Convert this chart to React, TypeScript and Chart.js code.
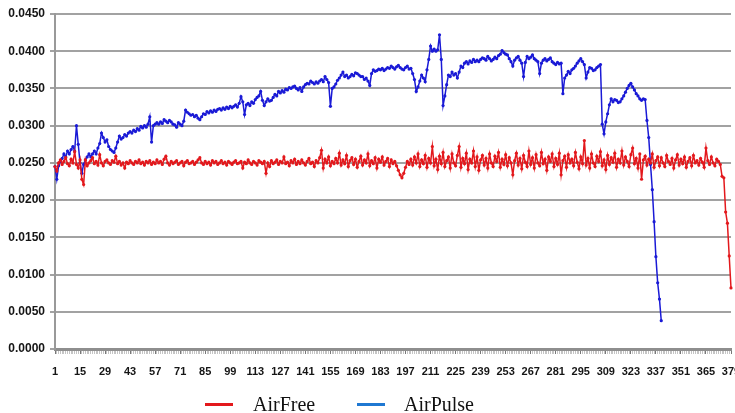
import React, { useEffect, useRef } from 'react';
import { Chart, registerables } from 'chart.js';

Chart.register(...registerables);

// x categories 1..379, a label is printed every 14th one
const categories = Array.from({ length: 379 }, (_, i) => String(i + 1));
const labelStep = 14;

const yMin = 0;
const yMax = 0.045;
const yStep = 0.005;

// AirFree (red)
const airFree = [
    0.0245, 0.0239, 0.0250, 0.0254, 0.0248, 0.0252, 0.0257, 0.0249, 0.0246, 0.0255,
    0.0250, 0.0265, 0.0248, 0.0243, 0.0254, 0.0228, 0.0221, 0.0254, 0.0246, 0.0250,
    0.0253, 0.0257, 0.0249, 0.0252, 0.0247, 0.0261, 0.0250, 0.0246, 0.0252, 0.0254,
    0.0250, 0.0248, 0.0253, 0.0251, 0.0259, 0.0249, 0.0252, 0.0247, 0.0250, 0.0243,
    0.0251, 0.0249, 0.0253, 0.0250, 0.0248, 0.0252, 0.0250, 0.0254, 0.0249, 0.0251,
    0.0247, 0.0252, 0.0250, 0.0253, 0.0248, 0.0251, 0.0249, 0.0254, 0.0250, 0.0252,
    0.0248, 0.0255, 0.0259, 0.0250, 0.0247, 0.0252, 0.0249, 0.0251, 0.0253, 0.0248,
    0.0250, 0.0252, 0.0246, 0.0251, 0.0253, 0.0249, 0.0250, 0.0252, 0.0248, 0.0251,
    0.0254, 0.0257, 0.0250, 0.0248, 0.0252, 0.0249, 0.0251, 0.0247, 0.0253, 0.0250,
    0.0252, 0.0248, 0.0250, 0.0253, 0.0249, 0.0251, 0.0247, 0.0252, 0.0250, 0.0248,
    0.0251, 0.0253, 0.0249, 0.0250, 0.0252, 0.0243, 0.0251, 0.0249, 0.0254, 0.0250,
    0.0248, 0.0252, 0.0250, 0.0247, 0.0253, 0.0251, 0.0249, 0.0252, 0.0236, 0.0250,
    0.0245, 0.0253, 0.0249, 0.0251, 0.0254, 0.0248, 0.0252, 0.0250, 0.0258, 0.0249,
    0.0251, 0.0246, 0.0253, 0.0250, 0.0255, 0.0248, 0.0252, 0.0249, 0.0254, 0.0250,
    0.0247, 0.0252, 0.0256, 0.0249, 0.0251, 0.0245, 0.0253, 0.0250, 0.0257, 0.0267,
    0.0243, 0.0255, 0.0250, 0.0258, 0.0246, 0.0252, 0.0249, 0.0256, 0.0250, 0.0263,
    0.0247, 0.0254, 0.0249, 0.0260, 0.0245, 0.0253, 0.0257, 0.0248, 0.0255, 0.0244,
    0.0252, 0.0259, 0.0247, 0.0254, 0.0250, 0.0262, 0.0246, 0.0253, 0.0249, 0.0257,
    0.0243, 0.0255, 0.0251, 0.0258, 0.0247, 0.0252, 0.0256, 0.0245, 0.0254, 0.0249,
    0.0252, 0.0246, 0.0240, 0.0234, 0.0230, 0.0236, 0.0244, 0.0252, 0.0248, 0.0255,
    0.0247, 0.0258, 0.0250, 0.0262, 0.0245, 0.0254, 0.0249, 0.0260, 0.0244, 0.0256,
    0.0250, 0.0272, 0.0246, 0.0255, 0.0241, 0.0259, 0.0249, 0.0264, 0.0245, 0.0253,
    0.0258, 0.0243, 0.0262, 0.0250, 0.0246, 0.0260, 0.0272, 0.0244, 0.0256, 0.0249,
    0.0263, 0.0241, 0.0255, 0.0250, 0.0266, 0.0245, 0.0258, 0.0240, 0.0254, 0.0260,
    0.0247, 0.0256, 0.0243, 0.0262, 0.0250, 0.0245, 0.0259, 0.0252, 0.0264, 0.0244,
    0.0255, 0.0248, 0.0261, 0.0246, 0.0257, 0.0250, 0.0234, 0.0253, 0.0263, 0.0247,
    0.0256, 0.0242, 0.0260, 0.0251, 0.0245, 0.0266, 0.0248, 0.0257, 0.0243, 0.0261,
    0.0250, 0.0246, 0.0264, 0.0249, 0.0255, 0.0240, 0.0258, 0.0252, 0.0262, 0.0245,
    0.0256, 0.0248, 0.0263, 0.0234, 0.0253, 0.0259, 0.0244, 0.0261, 0.0250, 0.0255,
    0.0246, 0.0264, 0.0251, 0.0242, 0.0258, 0.0249, 0.0280, 0.0247, 0.0256, 0.0243,
    0.0262, 0.0250, 0.0245, 0.0259, 0.0252, 0.0265, 0.0246, 0.0254, 0.0241, 0.0260,
    0.0248, 0.0257, 0.0251, 0.0263, 0.0244, 0.0255, 0.0250, 0.0266, 0.0247, 0.0258,
    0.0252, 0.0245, 0.0261, 0.0270, 0.0249, 0.0256, 0.0243, 0.0262, 0.0228, 0.0254,
    0.0259, 0.0247, 0.0255, 0.0250, 0.0262, 0.0244, 0.0253, 0.0258, 0.0246, 0.0257,
    0.0250, 0.0245, 0.0260, 0.0252, 0.0248, 0.0256, 0.0243, 0.0254, 0.0261, 0.0247,
    0.0255, 0.0249, 0.0258, 0.0244, 0.0252, 0.0257, 0.0246, 0.0260, 0.0250, 0.0253,
    0.0247, 0.0256, 0.0251, 0.0244, 0.0270, 0.0253, 0.0248, 0.0258, 0.0250, 0.0246,
    0.0255, 0.0252, 0.0248, 0.0232, 0.0230, 0.0184, 0.0169, 0.0125, 0.0082,
];

// AirPulse (blue), stops at 340
const airPulse = [
    0.0245, 0.0228, 0.0246, 0.0252, 0.0256, 0.0262, 0.0258, 0.0266, 0.0262, 0.0268,
    0.0272, 0.0266, 0.0300, 0.0275, 0.0250, 0.0236, 0.0248, 0.0254, 0.0258, 0.0262,
    0.0258, 0.0262, 0.0266, 0.0262, 0.0270, 0.0276, 0.0290, 0.0284, 0.0278, 0.0281,
    0.0272, 0.0268, 0.0266, 0.0264, 0.0270, 0.0278, 0.0286, 0.0282, 0.0284, 0.0288,
    0.0286, 0.0290, 0.0292, 0.0290, 0.0294, 0.0292, 0.0296, 0.0294, 0.0299, 0.0297,
    0.0300, 0.0298, 0.0302, 0.0312, 0.0278, 0.0300, 0.0302, 0.0304, 0.0302, 0.0305,
    0.0303, 0.0308, 0.0306, 0.0304, 0.0307, 0.0305, 0.0302, 0.0301, 0.0298, 0.0304,
    0.0302, 0.0300, 0.0306, 0.0321, 0.0318, 0.0316, 0.0314, 0.0315, 0.0312, 0.0314,
    0.0310, 0.0308, 0.0312, 0.0316, 0.0315, 0.0319, 0.0317, 0.0320, 0.0318, 0.0321,
    0.0319, 0.0322, 0.0323, 0.0321, 0.0324, 0.0322, 0.0325, 0.0323, 0.0326, 0.0324,
    0.0326, 0.0328, 0.0325, 0.0330, 0.0339, 0.0332, 0.0315, 0.0328, 0.0330, 0.0327,
    0.0332, 0.0330, 0.0335, 0.0338, 0.0340, 0.0346, 0.0334, 0.0327, 0.0332, 0.0336,
    0.0333, 0.0334, 0.0338, 0.0342, 0.0340, 0.0346, 0.0344, 0.0347, 0.0345, 0.0349,
    0.0348, 0.0351, 0.0350, 0.0352, 0.0353, 0.0350, 0.0348, 0.0351, 0.0346, 0.0352,
    0.0355, 0.0357, 0.0356, 0.0360, 0.0358, 0.0356, 0.0359, 0.0357, 0.0360, 0.0362,
    0.0359, 0.0366, 0.0362, 0.0358, 0.0326, 0.0350, 0.0352, 0.0356, 0.0361, 0.0364,
    0.0368, 0.0372, 0.0366, 0.0368, 0.0364, 0.0366, 0.0369, 0.0367, 0.0371, 0.0370,
    0.0368, 0.0366, 0.0366, 0.0362, 0.0364, 0.0360, 0.0354, 0.0370, 0.0375, 0.0373,
    0.0374, 0.0376, 0.0375, 0.0377, 0.0374, 0.0376, 0.0378, 0.0377, 0.0380, 0.0378,
    0.0376, 0.0379, 0.0381, 0.0378, 0.0376, 0.0375, 0.0378, 0.0380, 0.0376, 0.0377,
    0.0370, 0.0362, 0.0346, 0.0352, 0.0360, 0.0368, 0.0364, 0.0359, 0.0375, 0.0389,
    0.0407, 0.0400, 0.0403, 0.0400, 0.0402, 0.0422, 0.0389, 0.0327, 0.0340, 0.0355,
    0.0368, 0.0366, 0.0372, 0.0368, 0.0370, 0.0364, 0.0372, 0.0380, 0.0378, 0.0384,
    0.0386, 0.0383, 0.0387, 0.0385, 0.0389, 0.0386, 0.0388, 0.0386, 0.0389, 0.0391,
    0.0390, 0.0388, 0.0393, 0.0390, 0.0387, 0.0389, 0.0392, 0.0390, 0.0394, 0.0396,
    0.0401, 0.0398, 0.0396, 0.0395, 0.0390, 0.0386, 0.0380, 0.0388, 0.0391, 0.0393,
    0.0388, 0.0384, 0.0366, 0.0385, 0.0393, 0.0390, 0.0392, 0.0395, 0.0390, 0.0388,
    0.0386, 0.0370, 0.0384, 0.0388, 0.0390, 0.0387, 0.0389, 0.0391, 0.0386, 0.0384,
    0.0382, 0.0385, 0.0383, 0.0384, 0.0343, 0.0364, 0.0368, 0.0373, 0.0370, 0.0375,
    0.0377, 0.0380, 0.0384, 0.0387, 0.0390, 0.0386, 0.0382, 0.0364, 0.0372, 0.0378,
    0.0377, 0.0374, 0.0375, 0.0378, 0.0380, 0.0382, 0.0302, 0.0289, 0.0305, 0.0316,
    0.0328, 0.0336, 0.0332, 0.0335, 0.0334, 0.0331, 0.0332, 0.0336, 0.0340, 0.0345,
    0.0350, 0.0354, 0.0357, 0.0352, 0.0348, 0.0343, 0.0340, 0.0336, 0.0334, 0.0336,
    0.0335, 0.0307, 0.0284, 0.0248, 0.0214, 0.0171, 0.0124, 0.0089, 0.0067, 0.0038,
];

const RED = '#e3181c';
const BLUE = '#1a1ad6';
const LEGEND_BLUE = '#1f78d2';

const tickFont = "'Liberation Sans', Arial, sans-serif";

const App: React.FC = () => {
    const chartRef = useRef<HTMLCanvasElement>(null);
    const chartInstanceRef = useRef<Chart | null>(null);

    useEffect(() => {
        if (!chartRef.current) return;
        const ctx = chartRef.current.getContext('2d');
        if (!ctx) return;

        chartInstanceRef.current = new Chart(ctx, {
            type: 'line',
            data: {
                labels: categories,
                datasets: [
                    {
                        label: 'AirFree',
                        data: airFree,
                        borderColor: RED,
                        backgroundColor: RED,
                        borderWidth: 1.5,
                        pointRadius: 1.6,
                        pointBorderWidth: 0,
                        tension: 0,
                    },
                    {
                        label: 'AirPulse',
                        data: airPulse,
                        borderColor: BLUE,
                        backgroundColor: BLUE,
                        borderWidth: 1.5,
                        pointRadius: 1.6,
                        pointBorderWidth: 0,
                        tension: 0,
                    },
                ],
            },
            options: {
                responsive: true,
                maintainAspectRatio: false,
                animation: false,
                layout: {
                    padding: { top: 14, right: 4, bottom: 0, left: 0 },
                },
                plugins: {
                    legend: { display: false },
                    tooltip: { enabled: true },
                },
                scales: {
                    x: {
                        offset: false,
                        afterFit: (scale: any) => {
                            scale.height = 64;
                            scale.paddingRight = 0;
                            scale.paddingLeft = 0;
                        },
                        border: { display: true, color: '#8e8e8e', width: 3 },
                        grid: {
                            drawOnChartArea: false,
                            drawTicks: true,
                            tickLength: 5,
                            lineWidth: 1,
                            color: (c: any) => (c.index % labelStep === 0 ? '#777' : '#c4c4c4'),
                        },
                        ticks: {
                            autoSkip: false,
                            maxRotation: 0,
                            minRotation: 0,
                            padding: 11,
                            color: '#151515',
                            font: { family: tickFont, size: 11, weight: 'bold' },
                            callback: (_v: any, i: number) => (i % labelStep === 0 ? categories[i] : ''),
                        },
                    },
                    y: {
                        min: yMin,
                        max: yMax,
                        afterFit: (scale: any) => {
                            scale.width = 55;
                        },
                        border: { display: true, color: '#999', width: 2 },
                        grid: {
                            color: '#a2a2a2',
                            lineWidth: 2,
                            tickLength: 5,
                        },
                        ticks: {
                            stepSize: yStep,
                            padding: 5,
                            color: '#151515',
                            font: { family: tickFont, size: 12, weight: 'bold' },
                            callback: (v: any) => Number(v).toFixed(4),
                        },
                    },
                },
            },
        });

        return () => {
            if (chartInstanceRef.current) {
                chartInstanceRef.current.destroy();
                chartInstanceRef.current = null;
            }
        };
    }, []);

    const legendText: React.CSSProperties = {
        position: 'absolute',
        top: 394,
        fontFamily: "'Liberation Serif', 'Times New Roman', serif",
        fontSize: 20,
        lineHeight: '20px',
        color: '#111',
        whiteSpace: 'nowrap',
    };

    return (
        <div style={{ position: 'absolute', left: 0, top: 0, width: 735, height: 413, background: '#fff', overflow: 'hidden' }}>
            <canvas ref={chartRef} />
            <div style={{ position: 'absolute', left: 205, top: 403, width: 28, height: 3, background: RED }} />
            <div style={{ ...legendText, left: 253 }}>AirFree</div>
            <div style={{ position: 'absolute', left: 357, top: 403, width: 28, height: 3, background: LEGEND_BLUE }} />
            <div style={{ ...legendText, left: 404 }}>AirPulse</div>
        </div>
    );
};

export default App;
